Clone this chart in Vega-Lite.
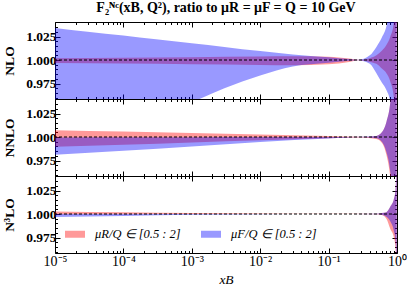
{
  "$schema": "https://vega.github.io/schema/vega-lite/v6.json",
  "background": "white",
  "padding": {"left": 2, "top": 1, "right": 2, "bottom": 3},
  "bounds": "flush",
  "spacing": 0,
  "config": {"view": {"stroke": null}, "concat": {"spacing": 0}},
  "datasets": {
    "b": [
      {"p": "NLO", "s": "μR/Q ∈ [0.5 : 2]", "x": 1e-5, "lo": 0.9968, "hi": 1.002},
      {"p": "NLO", "s": "μR/Q ∈ [0.5 : 2]", "x": 1e-4, "lo": 0.9962, "hi": 1.0025},
      {"p": "NLO", "s": "μR/Q ∈ [0.5 : 2]", "x": 1e-3, "lo": 0.9955, "hi": 1.003},
      {"p": "NLO", "s": "μR/Q ∈ [0.5 : 2]", "x": 1e-2, "lo": 0.9948, "hi": 1.0038},
      {"p": "NLO", "s": "μR/Q ∈ [0.5 : 2]", "x": 0.03, "lo": 0.9945, "hi": 1.004},
      {"p": "NLO", "s": "μR/Q ∈ [0.5 : 2]", "x": 0.1, "lo": 0.9955, "hi": 1.0035},
      {"p": "NLO", "s": "μR/Q ∈ [0.5 : 2]", "x": 0.2, "lo": 0.998, "hi": 1.0015},
      {"p": "NLO", "s": "μR/Q ∈ [0.5 : 2]", "x": 0.27, "lo": 0.9998, "hi": 1.0002},
      {"p": "NLO", "s": "μR/Q ∈ [0.5 : 2]", "x": 0.4, "lo": 0.998, "hi": 1.002},
      {"p": "NLO", "s": "μR/Q ∈ [0.5 : 2]", "x": 0.5, "lo": 0.996, "hi": 1.005},
      {"p": "NLO", "s": "μR/Q ∈ [0.5 : 2]", "x": 0.6, "lo": 0.991, "hi": 1.01},
      {"p": "NLO", "s": "μR/Q ∈ [0.5 : 2]", "x": 0.7, "lo": 0.986, "hi": 1.016},
      {"p": "NLO", "s": "μR/Q ∈ [0.5 : 2]", "x": 0.8, "lo": 0.977, "hi": 1.025},
      {"p": "NLO", "s": "μR/Q ∈ [0.5 : 2]", "x": 0.9, "lo": 0.96, "hi": 1.04},
      {"p": "NLO", "s": "μR/Q ∈ [0.5 : 2]", "x": 0.95, "lo": 0.94, "hi": 1.06},
      {"p": "NLO", "s": "μR/Q ∈ [0.5 : 2]", "x": 0.99, "lo": 0.9, "hi": 1.1},
      {"p": "NLO", "s": "μF/Q ∈ [0.5 : 2]", "x": 1e-5, "lo": 0.9, "hi": 1.034},
      {"p": "NLO", "s": "μF/Q ∈ [0.5 : 2]", "x": 3e-5, "lo": 0.913, "hi": 1.03},
      {"p": "NLO", "s": "μF/Q ∈ [0.5 : 2]", "x": 1e-4, "lo": 0.927, "hi": 1.026},
      {"p": "NLO", "s": "μF/Q ∈ [0.5 : 2]", "x": 3e-4, "lo": 0.941, "hi": 1.022},
      {"p": "NLO", "s": "μF/Q ∈ [0.5 : 2]", "x": 1e-3, "lo": 0.955, "hi": 1.018},
      {"p": "NLO", "s": "μF/Q ∈ [0.5 : 2]", "x": 3e-3, "lo": 0.97, "hi": 1.014},
      {"p": "NLO", "s": "μF/Q ∈ [0.5 : 2]", "x": 1e-2, "lo": 0.9835, "hi": 1.0095},
      {"p": "NLO", "s": "μF/Q ∈ [0.5 : 2]", "x": 0.03, "lo": 0.993, "hi": 1.006},
      {"p": "NLO", "s": "μF/Q ∈ [0.5 : 2]", "x": 0.1, "lo": 0.997, "hi": 1.003},
      {"p": "NLO", "s": "μF/Q ∈ [0.5 : 2]", "x": 0.2, "lo": 0.9992, "hi": 1.001},
      {"p": "NLO", "s": "μF/Q ∈ [0.5 : 2]", "x": 0.27, "lo": 0.9998, "hi": 1.0002},
      {"p": "NLO", "s": "μF/Q ∈ [0.5 : 2]", "x": 0.4, "lo": 0.996, "hi": 1.005},
      {"p": "NLO", "s": "μF/Q ∈ [0.5 : 2]", "x": 0.5, "lo": 0.986, "hi": 1.014},
      {"p": "NLO", "s": "μF/Q ∈ [0.5 : 2]", "x": 0.6, "lo": 0.976, "hi": 1.024},
      {"p": "NLO", "s": "μF/Q ∈ [0.5 : 2]", "x": 0.7, "lo": 0.968, "hi": 1.036},
      {"p": "NLO", "s": "μF/Q ∈ [0.5 : 2]", "x": 0.8, "lo": 0.955, "hi": 1.06},
      {"p": "NLO", "s": "μF/Q ∈ [0.5 : 2]", "x": 0.9, "lo": 0.92, "hi": 1.1},
      {"p": "NLO", "s": "μF/Q ∈ [0.5 : 2]", "x": 0.99, "lo": 0.85, "hi": 1.2},
      {"p": "NNLO", "s": "μR/Q ∈ [0.5 : 2]", "x": 1e-5, "lo": 0.9897, "hi": 1.0072},
      {"p": "NNLO", "s": "μR/Q ∈ [0.5 : 2]", "x": 1e-4, "lo": 0.9918, "hi": 1.0058},
      {"p": "NNLO", "s": "μR/Q ∈ [0.5 : 2]", "x": 1e-3, "lo": 0.9942, "hi": 1.0043},
      {"p": "NNLO", "s": "μR/Q ∈ [0.5 : 2]", "x": 1e-2, "lo": 0.9966, "hi": 1.0027},
      {"p": "NNLO", "s": "μR/Q ∈ [0.5 : 2]", "x": 0.1, "lo": 0.9988, "hi": 1.001},
      {"p": "NNLO", "s": "μR/Q ∈ [0.5 : 2]", "x": 0.3, "lo": 0.9996, "hi": 1.0003},
      {"p": "NNLO", "s": "μR/Q ∈ [0.5 : 2]", "x": 0.5, "lo": 0.998, "hi": 1.0012},
      {"p": "NNLO", "s": "μR/Q ∈ [0.5 : 2]", "x": 0.6, "lo": 0.994, "hi": 1.005},
      {"p": "NNLO", "s": "μR/Q ∈ [0.5 : 2]", "x": 0.7, "lo": 0.981, "hi": 1.016},
      {"p": "NNLO", "s": "μR/Q ∈ [0.5 : 2]", "x": 0.8, "lo": 0.955, "hi": 1.038},
      {"p": "NNLO", "s": "μR/Q ∈ [0.5 : 2]", "x": 0.9, "lo": 0.9, "hi": 1.09},
      {"p": "NNLO", "s": "μR/Q ∈ [0.5 : 2]", "x": 0.99, "lo": 0.8, "hi": 1.2},
      {"p": "NNLO", "s": "μF/Q ∈ [0.5 : 2]", "x": 1e-5, "lo": 0.981, "hi": 0.9995},
      {"p": "NNLO", "s": "μF/Q ∈ [0.5 : 2]", "x": 1e-4, "lo": 0.9855, "hi": 0.9997},
      {"p": "NNLO", "s": "μF/Q ∈ [0.5 : 2]", "x": 1e-3, "lo": 0.99, "hi": 0.9998},
      {"p": "NNLO", "s": "μF/Q ∈ [0.5 : 2]", "x": 1e-2, "lo": 0.9948, "hi": 0.9999},
      {"p": "NNLO", "s": "μF/Q ∈ [0.5 : 2]", "x": 0.1, "lo": 0.9985, "hi": 1.0},
      {"p": "NNLO", "s": "μF/Q ∈ [0.5 : 2]", "x": 0.3, "lo": 0.9997, "hi": 1.0003},
      {"p": "NNLO", "s": "μF/Q ∈ [0.5 : 2]", "x": 0.5, "lo": 0.9988, "hi": 1.0012},
      {"p": "NNLO", "s": "μF/Q ∈ [0.5 : 2]", "x": 0.6, "lo": 0.995, "hi": 1.005},
      {"p": "NNLO", "s": "μF/Q ∈ [0.5 : 2]", "x": 0.7, "lo": 0.984, "hi": 1.016},
      {"p": "NNLO", "s": "μF/Q ∈ [0.5 : 2]", "x": 0.8, "lo": 0.962, "hi": 1.038},
      {"p": "NNLO", "s": "μF/Q ∈ [0.5 : 2]", "x": 0.9, "lo": 0.91, "hi": 1.09},
      {"p": "NNLO", "s": "μF/Q ∈ [0.5 : 2]", "x": 0.99, "lo": 0.8, "hi": 1.2},
      {"p": "N3LO", "s": "μR/Q ∈ [0.5 : 2]", "x": 1e-5, "lo": 0.9995, "hi": 1.0028},
      {"p": "N3LO", "s": "μR/Q ∈ [0.5 : 2]", "x": 1e-4, "lo": 0.9997, "hi": 1.002},
      {"p": "N3LO", "s": "μR/Q ∈ [0.5 : 2]", "x": 1e-3, "lo": 0.9999, "hi": 1.0012},
      {"p": "N3LO", "s": "μR/Q ∈ [0.5 : 2]", "x": 1e-2, "lo": 0.9999, "hi": 1.0006},
      {"p": "N3LO", "s": "μR/Q ∈ [0.5 : 2]", "x": 0.1, "lo": 0.9999, "hi": 1.0002},
      {"p": "N3LO", "s": "μR/Q ∈ [0.5 : 2]", "x": 0.5, "lo": 0.9997, "hi": 1.0003},
      {"p": "N3LO", "s": "μR/Q ∈ [0.5 : 2]", "x": 0.6, "lo": 0.999, "hi": 1.001},
      {"p": "N3LO", "s": "μR/Q ∈ [0.5 : 2]", "x": 0.7, "lo": 0.995, "hi": 1.002},
      {"p": "N3LO", "s": "μR/Q ∈ [0.5 : 2]", "x": 0.8, "lo": 0.984, "hi": 1.008},
      {"p": "N3LO", "s": "μR/Q ∈ [0.5 : 2]", "x": 0.9, "lo": 0.975, "hi": 1.016},
      {"p": "N3LO", "s": "μR/Q ∈ [0.5 : 2]", "x": 0.95, "lo": 0.965, "hi": 1.025},
      {"p": "N3LO", "s": "μR/Q ∈ [0.5 : 2]", "x": 0.99, "lo": 0.93, "hi": 1.06},
      {"p": "N3LO", "s": "μF/Q ∈ [0.5 : 2]", "x": 1e-5, "lo": 0.9968, "hi": 1.0},
      {"p": "N3LO", "s": "μF/Q ∈ [0.5 : 2]", "x": 1e-4, "lo": 0.998, "hi": 1.0},
      {"p": "N3LO", "s": "μF/Q ∈ [0.5 : 2]", "x": 1e-3, "lo": 0.9992, "hi": 1.0},
      {"p": "N3LO", "s": "μF/Q ∈ [0.5 : 2]", "x": 1e-2, "lo": 0.9998, "hi": 1.0},
      {"p": "N3LO", "s": "μF/Q ∈ [0.5 : 2]", "x": 0.1, "lo": 0.9999, "hi": 1.0},
      {"p": "N3LO", "s": "μF/Q ∈ [0.5 : 2]", "x": 0.5, "lo": 0.9997, "hi": 1.0003},
      {"p": "N3LO", "s": "μF/Q ∈ [0.5 : 2]", "x": 0.6, "lo": 0.9993, "hi": 1.001},
      {"p": "N3LO", "s": "μF/Q ∈ [0.5 : 2]", "x": 0.7, "lo": 0.997, "hi": 1.002},
      {"p": "N3LO", "s": "μF/Q ∈ [0.5 : 2]", "x": 0.8, "lo": 0.992, "hi": 1.008},
      {"p": "N3LO", "s": "μF/Q ∈ [0.5 : 2]", "x": 0.9, "lo": 0.982, "hi": 1.016},
      {"p": "N3LO", "s": "μF/Q ∈ [0.5 : 2]", "x": 0.95, "lo": 0.972, "hi": 1.025},
      {"p": "N3LO", "s": "μF/Q ∈ [0.5 : 2]", "x": 0.99, "lo": 0.94, "hi": 1.06}
    ]
  },
  "resolve": {"scale": {"color": "independent"}, "legend": {"color": "independent"}},
  "vconcat": [
    {
      "width": 342, "height": 77,
      "title": {"text": "F₂ᴺᶜ(xB, Q²), ratio to μR = μF = Q = 10 GeV", "font": "Liberation Serif", "fontSize": 14, "fontWeight": "bold", "color": "black", "offset": 0},
      "data": {"name": "b"},
      "layer": [
        {"transform": [{"filter": "datum.p == 'NLO' && datum.s == 'μR/Q ∈ [0.5 : 2]'"}],
         "mark": {"type": "area", "opacity": 0.4, "clip": true, "interpolate": "monotone"},
         "encoding": {
           "x": {"field": "x", "type": "quantitative", "scale": {"type": "log", "domain": [1e-5, 1]},
                 "axis": {"orient": "bottom", "values": [1e-5,2e-5,3e-5,4e-5,5e-5,6e-5,7e-5,8e-5,9e-5,1e-4,2e-4,3e-4,4e-4,5e-4,6e-4,7e-4,8e-4,9e-4,0.001,0.002,0.003,0.004,0.005,0.006,0.007,0.008,0.009,0.01,0.02,0.03,0.04,0.05,0.06,0.07,0.08,0.09,0.1,0.2,0.3,0.4,0.5,0.6,0.7,0.8,0.9,1], "labels": false, "title": null, "grid": false, "tickColor": "black", "domainColor": "black", "tickSize": {"condition": {"test": "abs(log(datum.value)/LN10-round(log(datum.value)/LN10))<1e-6", "value": -5}, "value": -2.5}}},
           "y": {"field": "lo", "type": "quantitative", "scale": {"domain": [0.9585, 1.0405], "zero": false, "nice": false},
                 "axis": {"orient": "left", "values": [0.96,0.965,0.97,0.975,0.98,0.985,0.99,0.995,1.0,1.005,1.01,1.015,1.02,1.025,1.03,1.035,1.04], "labelExpr": "abs(datum.value*40-round(datum.value*40))<1e-6 ? format(datum.value, '.3f') : ''", "labelOverlap": false, "labelFont": "Liberation Serif", "labelFontWeight": "bold", "labelFontSize": 13.5, "labelColor": "black", "labelPadding": 4, "grid": false, "tickColor": "black", "domainColor": "black", "tickSize": {"condition": {"test": "abs(datum.value*40-round(datum.value*40))<1e-6", "value": -5}, "value": -2.5}, "title": "NLO", "titleFont": "Liberation Serif", "titleFontWeight": "bold", "titleFontSize": 13.5, "titleColor": "black", "titlePadding": 9}},
           "y2": {"field": "hi"},
           "color": {"field": "s", "type": "nominal", "scale": {"domain": ["μR/Q ∈ [0.5 : 2]", "μF/Q ∈ [0.5 : 2]"], "range": ["#ff0000", "#0000ff"]}, "legend": null}
         }},
        {"transform": [{"filter": "datum.p == 'NLO' && datum.s == 'μF/Q ∈ [0.5 : 2]'"}],
         "mark": {"type": "area", "opacity": 0.4, "clip": true, "interpolate": "monotone"},
         "encoding": {
           "x": {"field": "x", "type": "quantitative", "axis": null},
           "y": {"field": "lo", "type": "quantitative", "axis": null},
           "y2": {"field": "hi"},
           "color": {"field": "s", "type": "nominal", "legend": null}
         }},
        {"data": {"values": [{}]},
         "mark": {"type": "rule", "color": "black", "strokeWidth": 1.1, "strokeDash": [3, 2]},
         "encoding": {"y": {"datum": 1, "type": "quantitative", "axis": null}}},
        {"transform": [{"filter": "datum.p == 'NLO'"}],
         "mark": {"type": "point", "opacity": 0, "clip": true},
         "encoding": {
           "x": {"field": "x", "type": "quantitative",
                 "axis": {"orient": "top", "values": [1e-5,2e-5,3e-5,4e-5,5e-5,6e-5,7e-5,8e-5,9e-5,1e-4,2e-4,3e-4,4e-4,5e-4,6e-4,7e-4,8e-4,9e-4,0.001,0.002,0.003,0.004,0.005,0.006,0.007,0.008,0.009,0.01,0.02,0.03,0.04,0.05,0.06,0.07,0.08,0.09,0.1,0.2,0.3,0.4,0.5,0.6,0.7,0.8,0.9,1], "labels": false, "title": null, "grid": false, "tickColor": "black", "domainColor": "black", "tickSize": {"condition": {"test": "abs(log(datum.value)/LN10-round(log(datum.value)/LN10))<1e-6", "value": -5}, "value": -2.5}}},
           "y": {"field": "lo", "type": "quantitative",
                 "axis": {"orient": "right", "values": [0.96,0.965,0.97,0.975,0.98,0.985,0.99,0.995,1.0,1.005,1.01,1.015,1.02,1.025,1.03,1.035,1.04], "labels": false, "title": null, "grid": false, "tickColor": "black", "domainColor": "black", "tickSize": {"condition": {"test": "abs(datum.value*40-round(datum.value*40))<1e-6", "value": -5}, "value": -2.5}}}
         }}
      ],
      "resolve": {"axis": {"x": "independent", "y": "independent"}}
    },
    {
      "width": 342, "height": 77,
      "data": {"name": "b"},
      "layer": [
        {"transform": [{"filter": "datum.p == 'NNLO' && datum.s == 'μR/Q ∈ [0.5 : 2]'"}],
         "mark": {"type": "area", "opacity": 0.4, "clip": true, "interpolate": "monotone"},
         "encoding": {
           "x": {"field": "x", "type": "quantitative", "scale": {"type": "log", "domain": [1e-5, 1]},
                 "axis": {"orient": "bottom", "values": [1e-5,2e-5,3e-5,4e-5,5e-5,6e-5,7e-5,8e-5,9e-5,1e-4,2e-4,3e-4,4e-4,5e-4,6e-4,7e-4,8e-4,9e-4,0.001,0.002,0.003,0.004,0.005,0.006,0.007,0.008,0.009,0.01,0.02,0.03,0.04,0.05,0.06,0.07,0.08,0.09,0.1,0.2,0.3,0.4,0.5,0.6,0.7,0.8,0.9,1], "labels": false, "title": null, "grid": false, "tickColor": "black", "domainColor": "black", "tickSize": {"condition": {"test": "abs(log(datum.value)/LN10-round(log(datum.value)/LN10))<1e-6", "value": -5}, "value": -2.5}}},
           "y": {"field": "lo", "type": "quantitative", "scale": {"domain": [0.9585, 1.0405], "zero": false, "nice": false},
                 "axis": {"orient": "left", "values": [0.96,0.965,0.97,0.975,0.98,0.985,0.99,0.995,1.0,1.005,1.01,1.015,1.02,1.025,1.03,1.035,1.04], "labelExpr": "abs(datum.value*40-round(datum.value*40))<1e-6 ? format(datum.value, '.3f') : ''", "labelOverlap": false, "labelFont": "Liberation Serif", "labelFontWeight": "bold", "labelFontSize": 13.5, "labelColor": "black", "labelPadding": 4, "grid": false, "tickColor": "black", "domainColor": "black", "tickSize": {"condition": {"test": "abs(datum.value*40-round(datum.value*40))<1e-6", "value": -5}, "value": -2.5}, "title": "NNLO", "titleFont": "Liberation Serif", "titleFontWeight": "bold", "titleFontSize": 13.5, "titleColor": "black", "titlePadding": 9}},
           "y2": {"field": "hi"},
           "color": {"field": "s", "type": "nominal", "scale": {"domain": ["μR/Q ∈ [0.5 : 2]", "μF/Q ∈ [0.5 : 2]"], "range": ["#ff0000", "#0000ff"]}, "legend": null}
         }},
        {"transform": [{"filter": "datum.p == 'NNLO' && datum.s == 'μF/Q ∈ [0.5 : 2]'"}],
         "mark": {"type": "area", "opacity": 0.4, "clip": true, "interpolate": "monotone"},
         "encoding": {
           "x": {"field": "x", "type": "quantitative", "axis": null},
           "y": {"field": "lo", "type": "quantitative", "axis": null},
           "y2": {"field": "hi"},
           "color": {"field": "s", "type": "nominal", "legend": null}
         }},
        {"data": {"values": [{}]},
         "mark": {"type": "rule", "color": "black", "strokeWidth": 1.1, "strokeDash": [3, 2]},
         "encoding": {"y": {"datum": 1, "type": "quantitative", "axis": null}}},
        {"transform": [{"filter": "datum.p == 'NNLO'"}],
         "mark": {"type": "point", "opacity": 0, "clip": true},
         "encoding": {
           "x": {"field": "x", "type": "quantitative",
                 "axis": {"orient": "top", "values": [1e-5,2e-5,3e-5,4e-5,5e-5,6e-5,7e-5,8e-5,9e-5,1e-4,2e-4,3e-4,4e-4,5e-4,6e-4,7e-4,8e-4,9e-4,0.001,0.002,0.003,0.004,0.005,0.006,0.007,0.008,0.009,0.01,0.02,0.03,0.04,0.05,0.06,0.07,0.08,0.09,0.1,0.2,0.3,0.4,0.5,0.6,0.7,0.8,0.9,1], "labels": false, "title": null, "grid": false, "tickColor": "black", "domainColor": "black", "tickSize": {"condition": {"test": "abs(log(datum.value)/LN10-round(log(datum.value)/LN10))<1e-6", "value": -5}, "value": -2.5}}},
           "y": {"field": "lo", "type": "quantitative",
                 "axis": {"orient": "right", "values": [0.96,0.965,0.97,0.975,0.98,0.985,0.99,0.995,1.0,1.005,1.01,1.015,1.02,1.025,1.03,1.035,1.04], "labels": false, "title": null, "grid": false, "tickColor": "black", "domainColor": "black", "tickSize": {"condition": {"test": "abs(datum.value*40-round(datum.value*40))<1e-6", "value": -5}, "value": -2.5}}}
         }}
      ],
      "resolve": {"axis": {"x": "independent", "y": "independent"}}
    },
    {
      "width": 342, "height": 77,
      "data": {"name": "b"},
      "layer": [
        {"transform": [{"filter": "datum.p == 'N3LO' && datum.s == 'μR/Q ∈ [0.5 : 2]'"}],
         "mark": {"type": "area", "opacity": 0.4, "clip": true, "interpolate": "monotone"},
         "encoding": {
           "x": {"field": "x", "type": "quantitative", "scale": {"type": "log", "domain": [1e-5, 1]},
                 "axis": {"orient": "bottom", "values": [1e-5,2e-5,3e-5,4e-5,5e-5,6e-5,7e-5,8e-5,9e-5,1e-4,2e-4,3e-4,4e-4,5e-4,6e-4,7e-4,8e-4,9e-4,0.001,0.002,0.003,0.004,0.005,0.006,0.007,0.008,0.009,0.01,0.02,0.03,0.04,0.05,0.06,0.07,0.08,0.09,0.1,0.2,0.3,0.4,0.5,0.6,0.7,0.8,0.9,1], "labelExpr": "abs(log(datum.value)/LN10-round(log(datum.value)/LN10))<1e-6 ? '10' + (round(log(datum.value)/LN10)==-5 ? '⁻⁵' : round(log(datum.value)/LN10)==-4 ? '⁻⁴' : round(log(datum.value)/LN10)==-3 ? '⁻³' : round(log(datum.value)/LN10)==-2 ? '⁻²' : round(log(datum.value)/LN10)==-1 ? '⁻¹' : '⁰') : ''", "labelFlush": false, "labelOverlap": false, "labelFont": "Liberation Serif", "labelFontSize": 14, "labelColor": "black", "labelPadding": 6, "grid": false, "tickColor": "black", "domainColor": "black", "tickSize": {"condition": {"test": "abs(log(datum.value)/LN10-round(log(datum.value)/LN10))<1e-6", "value": -5}, "value": -2.5}, "title": "xB", "titleFont": "Liberation Serif", "titleFontStyle": "italic", "titleFontWeight": "normal", "titleFontSize": 13.5, "titleColor": "black", "titlePadding": 2}},
           "y": {"field": "lo", "type": "quantitative", "scale": {"domain": [0.9585, 1.0405], "zero": false, "nice": false},
                 "axis": {"orient": "left", "values": [0.96,0.965,0.97,0.975,0.98,0.985,0.99,0.995,1.0,1.005,1.01,1.015,1.02,1.025,1.03,1.035,1.04], "labelExpr": "abs(datum.value*40-round(datum.value*40))<1e-6 ? format(datum.value, '.3f') : ''", "labelOverlap": false, "labelFont": "Liberation Serif", "labelFontWeight": "bold", "labelFontSize": 13.5, "labelColor": "black", "labelPadding": 4, "grid": false, "tickColor": "black", "domainColor": "black", "tickSize": {"condition": {"test": "abs(datum.value*40-round(datum.value*40))<1e-6", "value": -5}, "value": -2.5}, "title": "N³LO", "titleFont": "Liberation Serif", "titleFontWeight": "bold", "titleFontSize": 13.5, "titleColor": "black", "titlePadding": 9}},
           "y2": {"field": "hi"},
           "color": {"field": "s", "type": "nominal", "scale": {"domain": ["μR/Q ∈ [0.5 : 2]", "μF/Q ∈ [0.5 : 2]"], "range": ["#ff0000", "#0000ff"]},
                     "legend": {"orient": "none", "legendX": 10, "legendY": 48, "direction": "horizontal", "title": null, "symbolType": "M-1,-0.35H1V0.35H-1Z", "symbolSize": 400, "symbolStrokeWidth": 0, "symbolOpacity": 0.4, "labelFont": "Liberation Serif", "labelFontStyle": "italic", "labelFontSize": 12.5, "labelColor": "black", "labelOffset": 10, "columnPadding": 20}}
         }},
        {"transform": [{"filter": "datum.p == 'N3LO' && datum.s == 'μF/Q ∈ [0.5 : 2]'"}],
         "mark": {"type": "area", "opacity": 0.4, "clip": true, "interpolate": "monotone"},
         "encoding": {
           "x": {"field": "x", "type": "quantitative", "axis": null},
           "y": {"field": "lo", "type": "quantitative", "axis": null},
           "y2": {"field": "hi"},
           "color": {"field": "s", "type": "nominal"}
         }},
        {"data": {"values": [{}]},
         "mark": {"type": "rule", "color": "black", "strokeWidth": 1.1, "strokeDash": [3, 2]},
         "encoding": {"y": {"datum": 1, "type": "quantitative", "axis": null}}},
        {"transform": [{"filter": "datum.p == 'N3LO'"}],
         "mark": {"type": "point", "opacity": 0, "clip": true},
         "encoding": {
           "x": {"field": "x", "type": "quantitative",
                 "axis": {"orient": "top", "values": [1e-5,2e-5,3e-5,4e-5,5e-5,6e-5,7e-5,8e-5,9e-5,1e-4,2e-4,3e-4,4e-4,5e-4,6e-4,7e-4,8e-4,9e-4,0.001,0.002,0.003,0.004,0.005,0.006,0.007,0.008,0.009,0.01,0.02,0.03,0.04,0.05,0.06,0.07,0.08,0.09,0.1,0.2,0.3,0.4,0.5,0.6,0.7,0.8,0.9,1], "labels": false, "title": null, "grid": false, "tickColor": "black", "domainColor": "black", "tickSize": {"condition": {"test": "abs(log(datum.value)/LN10-round(log(datum.value)/LN10))<1e-6", "value": -5}, "value": -2.5}}},
           "y": {"field": "lo", "type": "quantitative",
                 "axis": {"orient": "right", "values": [0.96,0.965,0.97,0.975,0.98,0.985,0.99,0.995,1.0,1.005,1.01,1.015,1.02,1.025,1.03,1.035,1.04], "labels": false, "title": null, "grid": false, "tickColor": "black", "domainColor": "black", "tickSize": {"condition": {"test": "abs(datum.value*40-round(datum.value*40))<1e-6", "value": -5}, "value": -2.5}}}
         }}
      ],
      "resolve": {"axis": {"x": "independent", "y": "independent"}}
    }
  ]
}
